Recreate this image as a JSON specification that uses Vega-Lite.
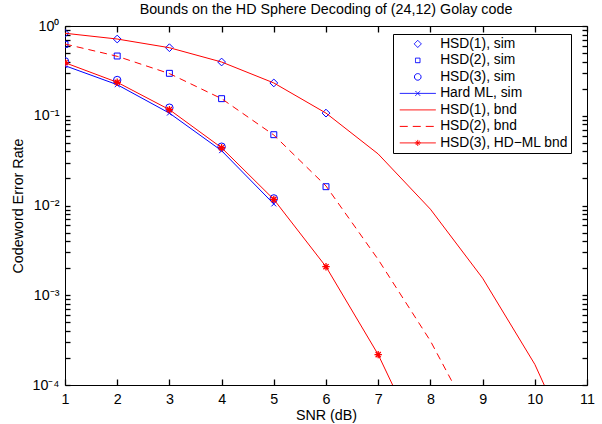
{
  "$schema": "https://vega.github.io/schema/vega-lite/v6.json",
  "width": 522,
  "height": 359,
  "autosize": {"type": "none"},
  "padding": {"left": 65, "top": 26, "right": 15, "bottom": 39},
  "background": "white",
  "title": {"text": "Bounds on the HD Sphere Decoding of (24,12) Golay code", "fontSize": 14.3, "fontWeight": "normal", "font": "Liberation Sans", "color": "black", "offset": 2, "anchor": "middle"},
  "config": {
    "view": {"stroke": "black", "strokeWidth": 1},
    "axis": {"grid": false, "domain": false, "labelColor": "black", "titleColor": "black", "labelFont": "Liberation Sans", "titleFont": "Liberation Sans", "labelFontSize": 14.3, "titleFontSize": 14.3, "titleFontWeight": "normal", "labelOverlap": false, "labelFlush": false},
    "legend": {"labelFont": "Liberation Sans", "labelFontSize": 13.8, "labelColor": "black"}
  },
  "datasets": {
    "d": [
      {"series": "HSD(1), sim", "snr": 1, "cer": 0.83},
      {"series": "HSD(1), sim", "snr": 2, "cer": 0.716},
      {"series": "HSD(1), sim", "snr": 3, "cer": 0.573},
      {"series": "HSD(1), sim", "snr": 4, "cer": 0.397},
      {"series": "HSD(1), sim", "snr": 5, "cer": 0.232},
      {"series": "HSD(1), sim", "snr": 6, "cer": 0.107},
      {"series": "HSD(2), sim", "snr": 1, "cer": 0.625},
      {"series": "HSD(2), sim", "snr": 2, "cer": 0.463},
      {"series": "HSD(2), sim", "snr": 3, "cer": 0.297},
      {"series": "HSD(2), sim", "snr": 4, "cer": 0.155},
      {"series": "HSD(2), sim", "snr": 5, "cer": 0.0615},
      {"series": "HSD(2), sim", "snr": 6, "cer": 0.0162},
      {"series": "HSD(3), sim", "snr": 1, "cer": 0.404},
      {"series": "HSD(3), sim", "snr": 2, "cer": 0.25},
      {"series": "HSD(3), sim", "snr": 3, "cer": 0.123},
      {"series": "HSD(3), sim", "snr": 4, "cer": 0.0452},
      {"series": "HSD(3), sim", "snr": 5, "cer": 0.012},
      {"series": "Hard ML, sim", "snr": 1, "cer": 0.361},
      {"series": "Hard ML, sim", "snr": 2, "cer": 0.222},
      {"series": "Hard ML, sim", "snr": 3, "cer": 0.107},
      {"series": "Hard ML, sim", "snr": 4, "cer": 0.0408},
      {"series": "Hard ML, sim", "snr": 5, "cer": 0.0104},
      {"series": "HSD(1), bnd", "snr": 1, "cer": 0.83},
      {"series": "HSD(1), bnd", "snr": 2, "cer": 0.716},
      {"series": "HSD(1), bnd", "snr": 3, "cer": 0.573},
      {"series": "HSD(1), bnd", "snr": 4, "cer": 0.397},
      {"series": "HSD(1), bnd", "snr": 5, "cer": 0.232},
      {"series": "HSD(1), bnd", "snr": 6, "cer": 0.107},
      {"series": "HSD(1), bnd", "snr": 7, "cer": 0.0375},
      {"series": "HSD(1), bnd", "snr": 8, "cer": 0.0091},
      {"series": "HSD(1), bnd", "snr": 9, "cer": 0.00155},
      {"series": "HSD(1), bnd", "snr": 10, "cer": 0.00017},
      {"series": "HSD(1), bnd", "snr": 11, "cer": 0.000009},
      {"series": "HSD(2), bnd", "snr": 1, "cer": 0.63},
      {"series": "HSD(2), bnd", "snr": 2, "cer": 0.46},
      {"series": "HSD(2), bnd", "snr": 3, "cer": 0.295},
      {"series": "HSD(2), bnd", "snr": 4, "cer": 0.155},
      {"series": "HSD(2), bnd", "snr": 5, "cer": 0.061},
      {"series": "HSD(2), bnd", "snr": 6, "cer": 0.0165},
      {"series": "HSD(2), bnd", "snr": 7, "cer": 0.0025},
      {"series": "HSD(2), bnd", "snr": 8, "cer": 0.00031},
      {"series": "HSD(2), bnd", "snr": 9, "cer": 0.000025},
      {"series": "HSD(3), HD−ML bnd", "snr": 1, "cer": 0.39},
      {"series": "HSD(3), HD−ML bnd", "snr": 2, "cer": 0.236},
      {"series": "HSD(3), HD−ML bnd", "snr": 3, "cer": 0.117},
      {"series": "HSD(3), HD−ML bnd", "snr": 4, "cer": 0.044},
      {"series": "HSD(3), HD−ML bnd", "snr": 5, "cer": 0.0117},
      {"series": "HSD(3), HD−ML bnd", "snr": 6, "cer": 0.00208},
      {"series": "HSD(3), HD−ML bnd", "snr": 7, "cer": 0.000218},
      {"series": "HSD(3), HD−ML bnd", "snr": 8, "cer": 0.000013}
    ]
  },
  "resolve": {"axis": {"x": "independent", "y": "independent"}},
  "layer": [
    {
      "data": {"name": "d"},
      "transform": [{"filter": {"field": "series", "oneOf": ["Hard ML, sim"]}}],
      "mark": {"type": "line", "clip": true, "strokeWidth": 1},
      "encoding": {
        "x": {"field": "snr", "type": "quantitative", "scale": {"domain": [1, 11], "nice": false, "zero": false},
              "axis": {"title": "SNR (dB)", "values": [1,2,3,4,5,6,7,8,9,10,11], "tickColor": "black", "tickWidth": 1.3, "offset": -6, "tickSize": 6, "labelPadding": 7, "titlePadding": 2}},
        "y": {"field": "cer", "type": "quantitative", "scale": {"type": "log", "domain": [0.0001, 1], "nice": false},
              "axis": {"title": "Codeword Error Rate", "values": [0.0001,0.0002,0.0003,0.0004,0.0005,0.0006,0.0007,0.0008,0.0009,0.001,0.002,0.003,0.004,0.005,0.006,0.007,0.008,0.009,0.01,0.02,0.03,0.04,0.05,0.06,0.07,0.08,0.09,0.1,0.2,0.3,0.4,0.5,0.6,0.7,0.8,0.9,1],
                       "labelExpr": "datum.value == 1 ? '10⁰' : datum.value == 0.1 ? '10⁻¹' : datum.value == 0.01 ? '10⁻²' : datum.value == 0.001 ? '10⁻³' : datum.value == 0.0001 ? '10⁻⁴' : ''",
                       "tickColor": "black", "tickWidth": 1.3, "offset": -5, "tickSize": 5, "labelPadding": 6, "titlePadding": 6}},
        "color": {"field": "series", "type": "nominal",
                  "scale": {"domain": ["HSD(1), sim", "HSD(2), sim", "HSD(3), sim", "Hard ML, sim", "HSD(1), bnd", "HSD(2), bnd", "HSD(3), HD−ML bnd"],
                            "range": ["#0000ff", "#0000ff", "#0000ff", "#0000ff", "#ff0000", "#ff0000", "#ff0000"]},
                  "legend": {"title": null, "orient": "none", "legendX": 328, "legendY": 8, "strokeColor": "black", "fillColor": "white", "padding": 3,
                             "symbolSize": 144, "symbolOffset": 14.85, "labelOffset": 15.5, "rowPadding": 1.5, "labelLimit": 0,
                             "encode": {"symbols": {"update": {
                               "shape": {"signal": "datum.value === 'HSD(1), sim' ? 'M0,-0.6L0.6,0L0,0.6L-0.6,0Z' : datum.value === 'HSD(2), sim' ? 'M-0.38,-0.38L0.38,-0.38L0.38,0.38L-0.38,0.38Z' : datum.value === 'HSD(3), sim' ? 'M0.55,0A0.55,0.55 0 1 1 -0.55,0A0.55,0.55 0 1 1 0.55,0Z' : datum.value === 'Hard ML, sim' ? 'M-3,0L3,0M-0.4,-0.4L0.4,0.4M-0.4,0.4L0.4,-0.4' : datum.value === 'HSD(3), HD−ML bnd' ? 'M-3,0L3,0M0,-0.5L0,0.5M-0.5,0L0.5,0M-0.35,-0.35L0.35,0.35M-0.35,0.35L0.35,-0.35' : 'M-3,0L3,0'"},
                               "stroke": {"signal": "indexof(datum.value, 'sim') >= 0 ? '#0000ff' : '#ff0000'"},
                               "fill": {"value": "transparent"},
                               "strokeDash": {"signal": "datum.value === 'HSD(2), bnd' ? [8,5] : [1,0]"},
                               "strokeWidth": {"value": 1},
                               "opacity": {"value": 1}
                             }}}}}
      }
    },
    {
      "data": {"name": "d"},
      "transform": [{"filter": {"field": "series", "oneOf": ["HSD(1), sim", "HSD(2), sim", "HSD(3), sim", "Hard ML, sim"]}}],
      "mark": {"type": "point", "clip": true, "filled": false, "strokeWidth": 1, "opacity": 1, "size": 55},
      "encoding": {
        "x": {"field": "snr", "type": "quantitative", "axis": {"orient": "top", "labels": false, "title": null, "values": [1,2,3,4,5,6,7,8,9,10,11], "tickColor": "black", "tickWidth": 1.3, "offset": -6, "tickSize": 6}},
        "y": {"field": "cer", "type": "quantitative", "axis": {"orient": "right", "labels": false, "title": null, "values": [0.0001,0.0002,0.0003,0.0004,0.0005,0.0006,0.0007,0.0008,0.0009,0.001,0.002,0.003,0.004,0.005,0.006,0.007,0.008,0.009,0.01,0.02,0.03,0.04,0.05,0.06,0.07,0.08,0.09,0.1,0.2,0.3,0.4,0.5,0.6,0.7,0.8,0.9,1], "tickColor": "black", "tickWidth": 1.3, "offset": -5, "tickSize": 5}},
        "color": {"field": "series", "type": "nominal"},
        "shape": {"field": "series", "type": "nominal",
                  "scale": {"domain": ["HSD(1), sim", "HSD(2), sim", "HSD(3), sim", "Hard ML, sim", "HSD(3), HD−ML bnd"],
                            "range": ["M0,-1.05L1.05,0L0,1.05L-1.05,0Z", "M-0.8,-0.8L0.8,-0.8L0.8,0.8L-0.8,0.8Z", "circle", "M-0.65,-0.65L0.65,0.65M-0.65,0.65L0.65,-0.65", "M0,-1L0,1M-1,0L1,0M-0.7,-0.7L0.7,0.7M-0.7,0.7L0.7,-0.7"]},
                  "legend": null}
      }
    },
    {
      "data": {"name": "d"},
      "transform": [{"filter": {"field": "series", "oneOf": ["HSD(1), bnd", "HSD(3), HD−ML bnd"]}}],
      "mark": {"type": "line", "clip": true, "strokeWidth": 1},
      "encoding": {
        "x": {"field": "snr", "type": "quantitative", "axis": null},
        "y": {"field": "cer", "type": "quantitative", "axis": null},
        "color": {"field": "series", "type": "nominal"}
      }
    },
    {
      "data": {"name": "d"},
      "transform": [{"filter": {"field": "series", "oneOf": ["HSD(2), bnd"]}}],
      "mark": {"type": "line", "clip": true, "strokeWidth": 1, "strokeDash": [7, 5]},
      "encoding": {
        "x": {"field": "snr", "type": "quantitative", "axis": null},
        "y": {"field": "cer", "type": "quantitative", "axis": null},
        "color": {"field": "series", "type": "nominal"}
      }
    },
    {
      "data": {"name": "d"},
      "transform": [{"filter": {"field": "series", "oneOf": ["HSD(3), HD−ML bnd"]}}],
      "mark": {"type": "point", "clip": true, "filled": false, "strokeWidth": 1.3, "opacity": 1, "size": 55},
      "encoding": {
        "x": {"field": "snr", "type": "quantitative", "axis": null},
        "y": {"field": "cer", "type": "quantitative", "axis": null},
        "color": {"field": "series", "type": "nominal"},
        "shape": {"field": "series", "type": "nominal", "legend": null}
      }
    }
  ]
}
